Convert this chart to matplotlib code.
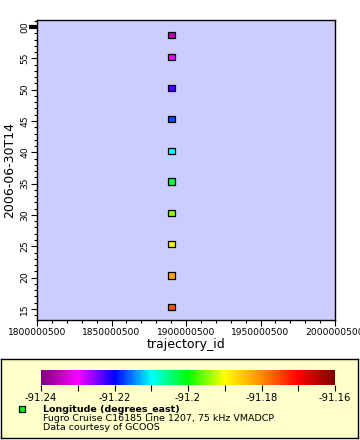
import matplotlib
matplotlib.use("Agg")
import matplotlib.pyplot as plt
import matplotlib.dates as mdates
from matplotlib.colors import LinearSegmentedColormap, Normalize
from matplotlib.patches import Rectangle
import numpy as np
import pandas as pd

# ---- data ----
times = ["2006-06-30T14:15:18", "2006-06-30T14:20:18", "2006-06-30T14:25:24",
         "2006-06-30T14:30:18", "2006-06-30T14:35:18", "2006-06-30T14:40:12",
         "2006-06-30T14:45:18", "2006-06-30T14:50:18", "2006-06-30T14:55:12",
         "2006-06-30T14:58:42"]
trajectory = [1890400500] * 10
longitude = [-91.176, -91.182, -91.189, -91.195, -91.2025,
             -91.210, -91.217, -91.223, -91.229, -91.235]
cb_ticks = [-91.24, -91.23, -91.22, -91.21, -91.20, -91.19, -91.18, -91.17, -91.16]
cb_labels = ["-91.24", "", "-91.22", "", "-91.2", "", "-91.18", "", "-91.16"]
x_ticks = [1800000500, 1850000500, 1900000500, 1950000500, 2000000500]

plt.rcParams['font.family'] = ['DejaVu Sans']

cmap = LinearSegmentedColormap.from_list("rainbow2", [
    (0.0, "#800080"), (0.125, "#ff00ff"), (0.25, "#0000ff"), (0.375, "#00ffff"),
    (0.5, "#00ff00"), (0.625, "#ffff00"), (0.75, "#ff8c00"), (0.875, "#ff0000"),
    (1.0, "#800000")])
norm = Normalize(-91.24, -91.16)

W, H = 360, 440
fig = plt.figure(figsize=(W / 100, H / 100), dpi=100)

def fx(px):
    return px / W

def fy(py):
    return 1 - py / H

# legend background box
bg = fig.add_axes([fx(1), fy(438), fx(358) - fx(1), fy(359) - fy(438)])
bg.set_facecolor("#ffffcc")
bg.set_xticks([])
bg.set_yticks([])
for s in bg.spines.values():
    s.set_linewidth(1)
bg.set_zorder(0)

ax = fig.add_axes([fx(37), fy(320), fx(335) - fx(37), fy(20) - fy(320)])
ax.set_facecolor("#ccccff")

t = pd.to_datetime(times)
tn = mdates.date2num(t)
ax.scatter(trajectory, tn, c=longitude, cmap=cmap, norm=norm, marker='s',
           s=22, edgecolors='black', linewidths=0.9, zorder=3)

ax.set_xlim(1800000500, 2000000500)
ax.set_xticks(x_ticks)
ax.set_xticklabels([str(v) for v in x_ticks])
ax.xaxis.set_minor_locator(matplotlib.ticker.FixedLocator(
    np.arange(1800000500, 2000000501, 10000000)))

y0 = mdates.date2num(pd.Timestamp("2006-06-30T14:13:14"))
y1 = mdates.date2num(pd.Timestamp("2006-06-30T15:01:07"))
ax.set_ylim(y0, y1)
ax.yaxis.set_major_locator(mdates.MinuteLocator(byminute=range(0, 60, 5)))
ax.yaxis.set_minor_locator(mdates.MinuteLocator(byminute=range(0, 60, 1)))
ax.yaxis.set_major_formatter(mdates.DateFormatter("%M"))

ax.tick_params(axis='both', which='major', direction='out', length=4, width=0.8,
               labelsize=6.6, pad=1.5)
ax.tick_params(axis='both', which='minor', direction='out', length=2.5, width=0.8)
for lab in ax.get_yticklabels():
    lab.set_rotation(90)
    lab.set_va('center')

# thick tick at the hour
for tk in ax.yaxis.get_major_ticks():
    if abs(tk.get_loc() - mdates.date2num(pd.Timestamp("2006-06-30T15:00:00"))) < 1e-6:
        tk.tick1line.set_markeredgewidth(3)
        tk.tick1line.set_markersize(6)

ax.set_xlabel("trajectory_id", fontsize=9, labelpad=1)
ax.set_ylabel("2006-06-30T14", fontsize=9, labelpad=3)
for s in ax.spines.values():
    s.set_linewidth(1)

cax = fig.add_axes([fx(41), fy(385), fx(335) - fx(41), fy(370) - fy(385)])
cax.set_zorder(2)
cb = fig.colorbar(matplotlib.cm.ScalarMappable(norm=norm, cmap=cmap), cax=cax,
                  orientation='horizontal')
cb.set_ticks(cb_ticks)
cb.set_ticklabels(cb_labels)
cb.outline.set_visible(False)
cax.tick_params(direction='out', length=4, width=0.8, labelsize=7.2, pad=2)
cax.minorticks_off()

fig.patches.append(Rectangle((fx(19), fy(412)), fx(25) - fx(19), fy(406) - fy(412),
                             transform=fig.transFigure, facecolor="#00ff00",
                             edgecolor="black", linewidth=0.9, zorder=5))
fig.text(fx(43), fy(409), "Longitude (degrees_east)", fontsize=6.8,
         fontweight='bold', va='center', ha='left', zorder=5)
fig.text(fx(43), fy(418.5), "Fugro Cruise C16185 Line 1207, 75 kHz VMADCP",
         fontsize=6.8, va='center', ha='left', zorder=5)
fig.text(fx(43), fy(427.5), "Data courtesy of GCOOS", fontsize=6.8,
         va='center', ha='left', zorder=5)

fig.savefig("out.png", dpi=100)
